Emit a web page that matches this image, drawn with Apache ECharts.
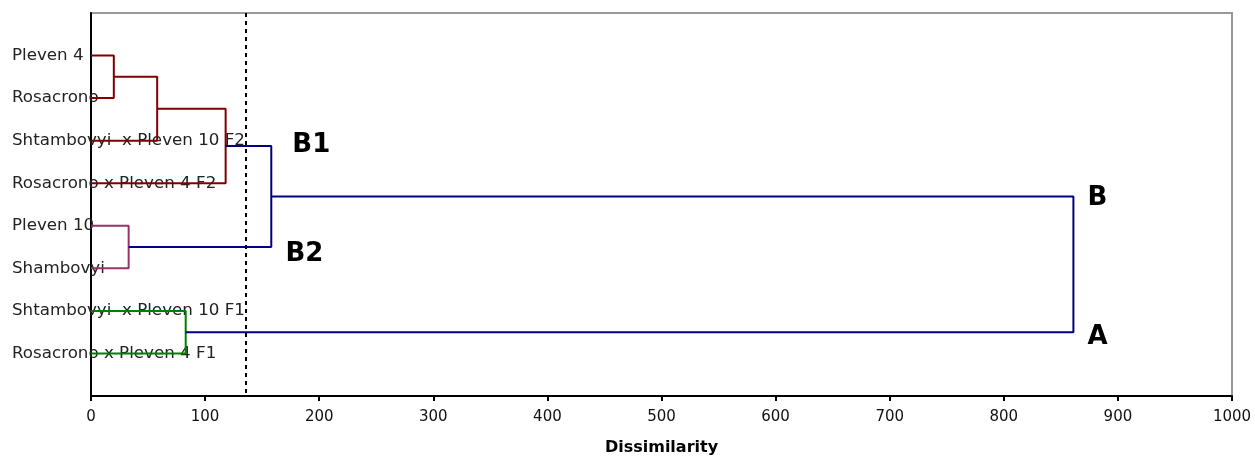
<!DOCTYPE html>
<html>
<head>
<meta charset="utf-8">
<script src="https://cdn.jsdelivr.net/npm/echarts@6/dist/echarts.min.js"></script>
<style>
  html, body { margin: 0; padding: 0; background: #fff; }
  #dendro { width: 1255px; height: 461px; }
</style>
</head>
<body>
<div id="dendro"></div>
<script>
  // leaves, top to bottom (positions 1..8 on the y axis)
  const leaves = [
    'Pleven 4',
    'Rosacrono',
    'Shtambovyi  x Pleven 10 F2',
    'Rosacrono x Pleven 4 F2',
    'Pleven 10',
    'Shambovyi',
    'Shtambovyi  x Pleven 10 F1',
    'Rosacrono x Pleven 4 F1'
  ]
  // merges: node ids 0..7 are leaves, 8.. are clusters in merge order
  const mergeLeft = [0, 8, 9, 4, 10, 6, 12]
  const mergeRight = [1, 2, 3, 5, 11, 7, 13]
  const mergeHeight = [20, 58, 118, 33, 158, 83, 861]
  const mergeGroup = ['B1', 'B1', 'B1', 'B2', 'B', 'A', 'B']

  const cutLevel = 136
  const xTicks = [0, 1000, 100] // min, max, step

  const annotText = ['B1', 'B2', 'B', 'A']
  const annotX = [176, 170, 873, 873]
  const annotY = [3.1, 5.68, 4.36, 7.61]

  const groupColor = { B1: '#800000', B2: '#993366', A: '#008000', B: '#000080' }

  const chart = echarts.init(document.getElementById('dendro'))

  // node position (x = height, y = leaf position)
  const nodeX = []
  const nodeY = []
  leaves.forEach((l, i) => { nodeX.push(0); nodeY.push(i + 1) })
  mergeHeight.forEach((h, k) => {
    nodeX.push(h)
    nodeY.push((nodeY[mergeLeft[k]] + nodeY[mergeRight[k]]) / 2)
  })

  const linkSeries = mergeHeight.map((h, k) => {
    const a = mergeLeft[k], b = mergeRight[k]
    return {
      type: 'line',
      showSymbol: false,
      silent: true,
      animation: false,
      lineStyle: { color: groupColor[mergeGroup[k]], width: 2 },
      data: [[nodeX[a], nodeY[a]], [h, nodeY[a]], [h, nodeY[b]], [nodeX[b], nodeY[b]]],
      z: 3
    }
  })

  linkSeries[0].markLine = {
    silent: true,
    symbol: 'none',
    label: { show: false },
    lineStyle: { color: '#000', width: 2, type: [4, 4] },
    data: [{ xAxis: cutLevel }]
  }

  chart.setOption({
    animation: false,
    textStyle: { fontFamily: 'DejaVu Sans' },
    grid: {
      left: 91, right: 23, top: 13, bottom: 62,
      show: true, borderColor: '#999', borderWidth: 2
    },
    xAxis: {
      type: 'value',
      position: 'bottom',
      min: xTicks[0],
      max: xTicks[1],
      interval: xTicks[2],
      name: 'Dissimilarity',
      nameLocation: 'middle',
      nameGap: 44,
      nameTextStyle: { fontSize: 16, fontWeight: 'bold', color: '#000', fontFamily: 'DejaVu Sans' },
      axisLine: { onZero: false, lineStyle: { color: '#000', width: 2 } },
      axisTick: { length: 5, lineStyle: { color: '#000', width: 2 } },
      axisLabel: { margin: 14, fontSize: 15, color: '#111', fontFamily: 'DejaVu Sans', formatter: (v) => String(v) },
      splitLine: { show: false }
    },
    yAxis: {
      type: 'value',
      min: 0,
      max: 9,
      interval: 1,
      inverse: true,
      axisLine: { show: true, onZero: false, lineStyle: { color: '#000', width: 2 } },
      axisTick: { show: false },
      splitLine: { show: false },
      axisLabel: {
        align: 'left',
        margin: 79,
        fontSize: 16.7,
        color: '#222',
        fontFamily: 'DejaVu Sans',
        formatter: (v) => leaves[v - 1] || ''
      }
    },
    series: linkSeries.concat([{
      type: 'scatter',
      symbolSize: 1,
      itemStyle: { color: 'rgba(255,255,255,0)' },
      silent: true,
      data: annotX.map((x, i) => [x, annotY[i], annotText[i]]),
      label: {
        show: true,
        position: 'right',
        distance: 0,
        formatter: (p) => p.value[2],
        fontSize: 26,
        fontWeight: 'bold',
        color: '#000000',
        opacity: 1,
        textBorderWidth: 0,
        fontFamily: 'DejaVu Sans'
      },
      z: 5
    }])
  })
</script>
</body>
</html>
